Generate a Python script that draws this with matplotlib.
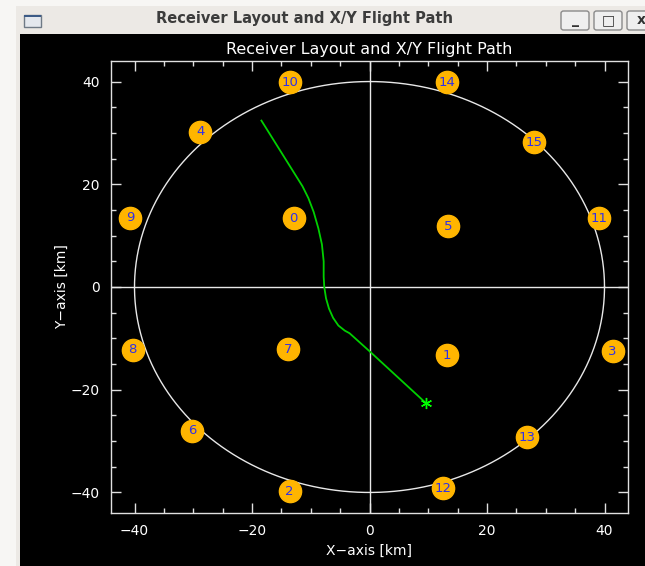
import numpy as np
import matplotlib
matplotlib.use("Agg")
import matplotlib.pyplot as plt
from matplotlib.patches import Rectangle, FancyBboxPatch

# receiver positions [km]
rx_id = [0, 1, 2, 3, 4, 5, 6, 7, 8, 9, 10, 11, 12, 13, 14, 15]
rx_x = [-12.9, 13.2, -13.6, 41.4, -28.8, 13.4, -30.2, -13.9,
        -40.3, -40.7, -13.5, 39.0, 12.5, 26.8, 13.2, 28.0]
rx_y = [13.4, -13.3, -39.8, -12.5, 30.2, 11.8, -28.0, -12.1,
        -12.2, 13.5, 39.9, 13.4, -39.2, -29.3, 39.9, 28.2]

# aircraft ground track [km]
path_x = [-18.4, -11.4, -10.4, -9.5, -8.7, -8.1, -7.8, -7.8, -7.7,
          -7.4, -6.9, -6.2, -5.3, -4.2, -3.4, 0.0, 9.6]
path_y = [32.4, 19.6, 17.3, 14.6, 11.4, 8.3, 5.0, 2.0, 0.0,
          -2.2, -4.2, -6.0, -7.5, -8.5, -9.0, -12.5, -22.6]

ring_radius = 40.0

W, H = 645, 566
fig = plt.figure(figsize=(W / 100, H / 100), dpi=100, facecolor="#f7f6f4")

def px(x0, y0, w, h):
    # pixel box (top-left origin) -> figure fraction rect
    return (x0 / W, 1 - (y0 + h) / H, w / W, h / H)

# window frame and title bar
frame = Rectangle(px(16, 6, 629, 560)[:2], 629 / W, 560 / H,
                  transform=fig.transFigure, facecolor="#ece9e5",
                  edgecolor="none", zorder=0)
fig.patches.append(frame)
black = Rectangle(px(20, 34, 625, 532)[:2], 625 / W, 532 / H,
                  transform=fig.transFigure, facecolor="black",
                  edgecolor="none", zorder=0)
fig.patches.append(black)

# window icon
icon = Rectangle(px(24, 15, 17, 12)[:2], 17 / W, 12 / H,
                 transform=fig.transFigure, facecolor="#e4e8ee",
                 edgecolor="#6f7a86", lw=1, zorder=1)
fig.patches.append(icon)
fig.patches.append(Rectangle(px(24, 15, 17, 2)[:2], 17 / W, 2 / H,
                             transform=fig.transFigure, facecolor="#3d5b87",
                             edgecolor="none", zorder=2))

fig.text(305 / W, 1 - 19 / H, "Receiver Layout and X/Y Flight Path",
         ha="center", va="center", fontsize=10.5, fontweight="bold",
         color="#3c3c3c")

# title bar buttons
for bx, sym in [(561, "_"), (594, "□"), (627, "x")]:
    b = FancyBboxPatch(px(bx, 11, 28, 19)[:2], 28 / W, 19 / H,
                       boxstyle="round,pad=0,rounding_size=0.004",
                       transform=fig.transFigure, facecolor="#efefef",
                       edgecolor="#8a8a8a", lw=1, zorder=1)
    fig.patches.append(b)
    fig.text((bx + 14) / W, 1 - 20 / H, sym, ha="center", va="center",
             fontsize=10, fontweight="bold", color="#333333", zorder=3)

# plot area
ax = fig.add_axes([111 / W, 1 - 513 / H, 517 / W, 452 / H])
ax.set_zorder(10)
ax.set_facecolor("black")
fg = "#e0e0e0"

theta = np.linspace(0, 2 * np.pi, 400)
ax.plot(ring_radius * np.cos(theta), ring_radius * np.sin(theta),
        color="#e8e8e8", lw=1.0)
ax.axhline(0, color="#e8e8e8", lw=1.0)
ax.axvline(0, color="#e8e8e8", lw=1.0)

ax.plot(path_x, path_y, color="#00d000", lw=1.3)
ax.plot(path_x[-1], path_y[-1], marker=(6, 2, 0), color="#00ff00",
        ms=8, mew=1.0)

ax.plot(rx_x, rx_y, "o", ms=16, color="#ffb500", mec="#ffb500", zorder=4)
for i, x, y in zip(rx_id, rx_x, rx_y):
    ax.text(x, y, str(i), ha="center", va="center", fontsize=9.5,
            color="#3030e8", zorder=5)

ax.set_xlim(-44, 44)
ax.set_ylim(-44, 44)
ax.set_xticks([-40, -20, 0, 20, 40])
ax.set_yticks([-40, -20, 0, 20, 40])
ax.set_xticks(np.arange(-40, 41, 5), minor=True)
ax.set_yticks(np.arange(-40, 41, 5), minor=True)
ax.set_xticklabels(["\u221240", "\u221220", "0", "20", "40"])
ax.set_yticklabels(["\u221240", "\u221220", "0", "20", "40"])
ax.tick_params(which="both", direction="in", top=True, right=True,
               colors=fg, labelcolor="white", labelsize=10)
ax.tick_params(which="major", length=7, width=1, pad=8)
ax.tick_params(which="minor", length=3.5, width=1)
for s in ax.spines.values():
    s.set_color(fg)
    s.set_linewidth(1.0)

ax.set_title("Receiver Layout and X/Y Flight Path", color="white",
             fontsize=11.5, pad=5)
ax.set_xlabel("X\u2212axis [km]", color="white", fontsize=10, labelpad=4)
ax.set_ylabel("Y\u2212axis [km]", color="white", fontsize=10, labelpad=1)

fig.savefig("out.png", dpi=100, facecolor=fig.get_facecolor())
